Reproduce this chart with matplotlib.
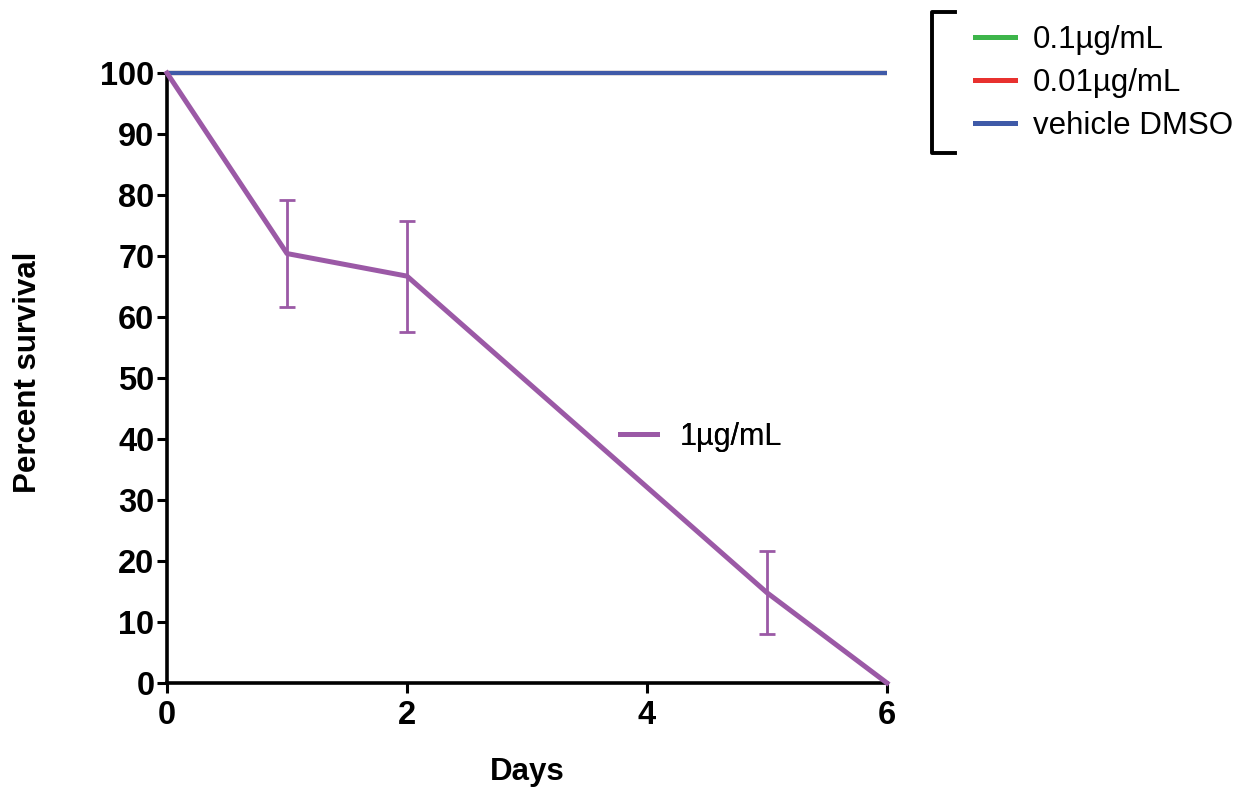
import matplotlib
matplotlib.use("Agg")
import matplotlib.pyplot as plt
from matplotlib.lines import Line2D

plt.rcParams['font.family'] = ['Liberation Sans', 'DejaVu Sans']

# Data
days = [0, 1, 2, 5, 6]
survival_1ug = [100, 70.4, 66.7, 14.8, 0]
err_1ug = [0, 8.8, 9.1, 6.8, 0]
flat_days = [0, 6]
survival_01ug = [100, 100]
survival_001ug = [100, 100]
survival_dmso = [100, 100]
x_ticks = [0, 2, 4, 6]
y_ticks = list(range(0, 101, 10))

c_purple = '#9B59A6'
c_green = '#3DB54A'
c_red = '#E8312F'
c_blue = '#3F5AA8'

fig = plt.figure(figsize=(12.43, 7.93), dpi=100)
ax = fig.add_axes([167/1243, 1-683/793, 720/1243, 610/793])

ax.plot(flat_days, survival_01ug, color=c_green, lw=3, clip_on=False, solid_capstyle='butt', zorder=3)
ax.plot(flat_days, survival_001ug, color=c_red, lw=3, clip_on=False, solid_capstyle='butt', zorder=3)
ax.plot(flat_days, survival_dmso, color=c_blue, lw=3, clip_on=False, solid_capstyle='butt', zorder=4)

mask = [i for i, e in enumerate(err_1ug) if e > 0]
ax.errorbar([days[i] for i in mask], [survival_1ug[i] for i in mask],
            yerr=[err_1ug[i] for i in mask], fmt='none', ecolor=c_purple,
            elinewidth=2, capsize=6, capthick=2, zorder=5, clip_on=False)
ax.plot(days, survival_1ug, color=c_purple, lw=3.6, clip_on=False, zorder=6)

ax.set_xlim(0, 6)
ax.set_ylim(0, 100)
ax.set_xticks(x_ticks)
ax.set_yticks(y_ticks)
for s in ['top', 'right']:
    ax.spines[s].set_visible(False)
for s in ['left', 'bottom']:
    ax.spines[s].set_linewidth(2.6)
ax.tick_params(direction='out', length=7.5, width=2.2, labelsize=23.5, pad=1.5)
ax.tick_params(axis='x', pad=4.5)
for lab in ax.get_xticklabels() + ax.get_yticklabels():
    lab.set_fontweight('bold')

ax.set_xlabel('Days', fontsize=22.5, fontweight='bold')
ax.set_ylabel('Percent survival', fontsize=22.5, fontweight='bold')
ax.xaxis.set_label_coords(0.5, -0.122)
ax.yaxis.set_label_coords(-0.172, 0.51)

# legend for 1ug/mL inside
h1 = Line2D([], [], color=c_purple, lw=3.6)
leg1 = ax.legend([h1], ['1µg/mL'], loc='center left', bbox_to_anchor=(620/1243, 1-437/793),
                 bbox_transform=fig.transFigure, frameon=False, fontsize=22,
                 handlelength=1.2, handletextpad=0.75, borderpad=0, borderaxespad=0)
ax.add_artist(leg1)

# right legend
hs = [Line2D([], [], color=c, lw=3.6) for c in (c_green, c_red, c_blue)]
leg2 = fig.legend(hs, ['0.1µg/mL', '0.01µg/mL', 'vehicle DMSO'], loc='center left',
                  bbox_to_anchor=(975/1243, 1-83/793), frameon=False, fontsize=22.5,
                  handlelength=1.28, handletextpad=0.58, labelspacing=0.42,
                  borderpad=0, borderaxespad=0)

# bracket
bx = [955/1243, 932/1243, 932/1243, 955/1243]
by = [1-12/793, 1-12/793, 1-153/793, 1-153/793]
fig.add_artist(Line2D(bx, by, color='black', lw=2.8, transform=fig.transFigure))

fig.savefig('out.png', dpi=100)
